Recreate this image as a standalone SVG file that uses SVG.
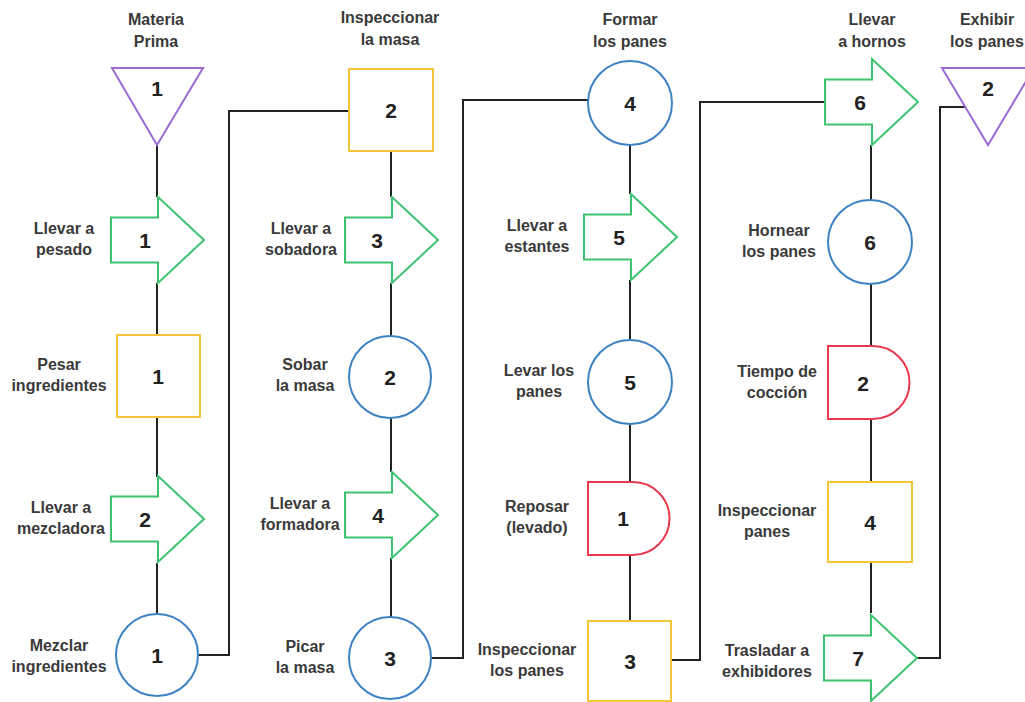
<svg xmlns="http://www.w3.org/2000/svg" width="1025" height="702" viewBox="0 0 1025 702">
<style>
.lbl{font-family:"Liberation Sans",Arial,sans-serif;font-size:16px;font-weight:bold;fill:#3a3a3a;text-anchor:middle}
.num{font-family:"Liberation Sans",Arial,sans-serif;font-size:21px;font-weight:bold;fill:#222;text-anchor:middle;dominant-baseline:central}
.tri{fill:#fff;stroke:#9b6bd3;stroke-width:2}
.arr{fill:#fff;stroke:#3cc36f;stroke-width:2}
.ins{fill:#fff;stroke:#f3c63a;stroke-width:2}
.op{fill:#fff;stroke:#3e82c4;stroke-width:2}
.del{fill:#fff;stroke:#e83a4c;stroke-width:2}
.con{fill:none;stroke:#222;stroke-width:2}
</style>
<defs>
<path id="arrow" d="M-47,-22.5 H0 V-43 L46,0 L0,43 V22.5 H-47 Z"/>
</defs>
<rect width="1025" height="702" fill="#fff"/>
<g id="connectors">
<path class="con" d="M157,145 V197 M157,283 V335 M157,417 V477 M157,563 V614"/>
<path class="con" d="M198,655 H229 V111 H349"/>
<path class="con" d="M391,151 V197 M391,283 V336 M391,418 V472 M391,558 V617"/>
<path class="con" d="M431,658 H463 V100 H588"/>
<path class="con" d="M630,145 V194 M630,280 V340 M630,424 V482 M630,555 V621"/>
<path class="con" d="M671,660 H700 V102 H825"/>
<path class="con" d="M871,145 V200 M871,284 V346 M871,419 V482 M871,562 V613"/>
<path class="con" d="M915,658 H940 V107 H965"/>
</g>
<g id="n-t1"><polygon class="tri" points="112,68 203,68 157,145"/><text class="num" x="157" y="88">1</text><text class="lbl" x="156" y="25">Materia</text><text class="lbl" x="156" y="47">Prima</text></g>
<g id="n-a1"><use href="#arrow" class="arr" x="158" y="240"/><text class="num" x="145" y="240">1</text><text class="lbl" x="64" y="234">Llevar a</text><text class="lbl" x="64" y="255">pesado</text></g>
<g id="n-s1"><rect class="ins" x="117" y="335" width="83" height="82"/><text class="num" x="158" y="376">1</text><text class="lbl" x="59" y="370">Pesar</text><text class="lbl" x="59" y="391">ingredientes</text></g>
<g id="n-a2"><use href="#arrow" class="arr" x="158" y="519"/><text class="num" x="145" y="519">2</text><text class="lbl" x="61" y="513">Llevar a</text><text class="lbl" x="61" y="534">mezcladora</text></g>
<g id="n-c1"><circle class="op" cx="157" cy="655" r="41"/><text class="num" x="157" y="655">1</text><text class="lbl" x="59" y="651">Mezclar</text><text class="lbl" x="59" y="672">ingredientes</text></g>
<g id="n-s2"><rect class="ins" x="349" y="69" width="84" height="82"/><text class="num" x="391" y="110">2</text><text class="lbl" x="390" y="23">Inspeccionar</text><text class="lbl" x="390" y="45">la masa</text></g>
<g id="n-a3"><use href="#arrow" class="arr" x="392" y="240"/><text class="num" x="377" y="240">3</text><text class="lbl" x="301" y="234">Llevar a</text><text class="lbl" x="301" y="255">sobadora</text></g>
<g id="n-c2"><circle class="op" cx="390" cy="377" r="41"/><text class="num" x="390" y="377">2</text><text class="lbl" x="305" y="370">Sobar</text><text class="lbl" x="305" y="391">la masa</text></g>
<g id="n-a4"><use href="#arrow" class="arr" x="392" y="515"/><text class="num" x="378" y="515">4</text><text class="lbl" x="300" y="509">Llevar a</text><text class="lbl" x="300" y="530">formadora</text></g>
<g id="n-c3"><circle class="op" cx="390" cy="658" r="41"/><text class="num" x="390" y="658">3</text><text class="lbl" x="305" y="652">Picar</text><text class="lbl" x="305" y="673">la masa</text></g>
<g id="n-c4"><circle class="op" cx="630" cy="103" r="42"/><text class="num" x="630" y="103">4</text><text class="lbl" x="630" y="25">Formar</text><text class="lbl" x="630" y="47">los panes</text></g>
<g id="n-a5"><use href="#arrow" class="arr" x="631" y="237"/><text class="num" x="619" y="237">5</text><text class="lbl" x="537" y="231">Llevar a</text><text class="lbl" x="537" y="252">estantes</text></g>
<g id="n-c5"><circle class="op" cx="630" cy="382" r="42"/><text class="num" x="630" y="382">5</text><text class="lbl" x="539" y="376">Levar los</text><text class="lbl" x="539" y="397">panes</text></g>
<g id="n-d1"><path class="del" d="M588,482 H633 A36.5,36.5 0 0 1 633,555 H588 Z"/><text class="num" x="623" y="518">1</text><text class="lbl" x="537" y="512">Reposar</text><text class="lbl" x="537" y="533">(levado)</text></g>
<g id="n-s3"><rect class="ins" x="588" y="621" width="83" height="80"/><text class="num" x="630" y="661">3</text><text class="lbl" x="527" y="655">Inspeccionar</text><text class="lbl" x="527" y="676">los panes</text></g>
<g id="n-a6"><use href="#arrow" class="arr" x="872" y="102"/><text class="num" x="860" y="102">6</text><text class="lbl" x="872" y="25">Llevar</text><text class="lbl" x="872" y="47">a hornos</text></g>
<g id="n-c6"><circle class="op" cx="870" cy="242" r="42"/><text class="num" x="870" y="242">6</text><text class="lbl" x="779" y="236">Hornear</text><text class="lbl" x="779" y="257">los panes</text></g>
<g id="n-d2"><path class="del" d="M828,346 H873 A36.5,36.5 0 0 1 873,419 H828 Z"/><text class="num" x="863" y="383">2</text><text class="lbl" x="777" y="377">Tiempo de</text><text class="lbl" x="777" y="398">cocción</text></g>
<g id="n-s4"><rect class="ins" x="828" y="482" width="84" height="80"/><text class="num" x="870" y="522">4</text><text class="lbl" x="767" y="516">Inspeccionar</text><text class="lbl" x="767" y="537">panes</text></g>
<g id="n-a7"><use href="#arrow" class="arr" x="871" y="658"/><text class="num" x="858" y="658">7</text><text class="lbl" x="767" y="656">Trasladar a</text><text class="lbl" x="767" y="677">exhibidores</text></g>
<g id="n-t2"><polygon class="tri" points="942,68 1034,68 988,145"/><text class="num" x="988" y="88">2</text><text class="lbl" x="987" y="25">Exhibir</text><text class="lbl" x="987" y="47">los panes</text></g>
</svg>
